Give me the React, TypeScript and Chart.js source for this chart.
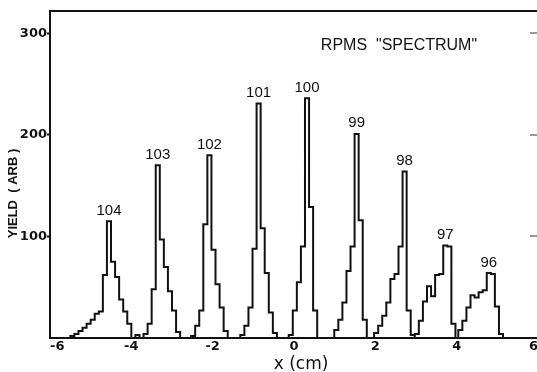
import React, { useEffect, useRef } from "react";
import { Chart, registerables } from "chart.js";

Chart.register(...registerables);

// ---- data (cm / arbitrary yield) ----
const BIN_WIDTH = 0.1;
const peakNames = ["104", "103", "102", "101", "100", "99", "98", "97", "96"];
const peakStarts = [-5.5, -3.9, -2.53, -1.32, -0.13, 0.99, 1.97, 2.97, 4.04];
const yield104 = [2, 4, 7, 10, 14, 18, 24, 26, 62, 115, 75, 60, 38, 26, 14];
const yield103 = [3, 0, 4, 14, 48, 170, 97, 70, 46, 27, 6];
const yield102 = [2, 12, 27, 112, 180, 87, 53, 30, 7];
const yield101 = [3, 12, 30, 88, 231, 108, 64, 25, 5];
const yield100 = [3, 27, 55, 90, 236, 129, 27];
const yield99 = [8, 18, 35, 66, 90, 201, 116, 18];
const yield98 = [5, 12, 22, 35, 58, 63, 90, 164, 27, 3];
const yield97 = [4, 17, 36, 51, 41, 62, 63, 91, 90, 14];
const yield96 = [8, 17, 30, 42, 40, 45, 47, 64, 63, 31, 4];
const xTickValues = [-6, -4, -2, 0, 2, 4, 6];
const yTickValues = [100, 200, 300];
const titleText = 'RPMS  "SPECTRUM"';
const xTitle = "x (cm)";
const yTitle = "YIELD  ( ARB )";

const peakSeries = [yield104, yield103, yield102, yield101, yield100, yield99, yield98, yield97, yield96];

function buildPoints() {
  const pts: { x: number; y: number }[] = [];
  peakSeries.forEach((h, k) => {
    const s = peakStarts[k];
    pts.push({ x: s, y: 0 });
    h.forEach((v, i) => {
      const l = s + i * BIN_WIDTH;
      pts.push({ x: l, y: v }, { x: l + BIN_WIDTH, y: v });
    });
    pts.push({ x: s + h.length * BIN_WIDTH, y: 0 });
  });
  return pts;
}

const INK = "#111";

const annotPlugin = {
  id: "annot",
  afterDraw(chart: any) {
    const { ctx, chartArea } = chart;
    const xs = chart.scales.x;
    const ys = chart.scales.y;
    ctx.save();
    // top frame line
    ctx.strokeStyle = INK;
    ctx.lineWidth = 2;
    ctx.beginPath();
    ctx.moveTo(chartArea.left - 1, chartArea.top);
    ctx.lineTo(chartArea.right, chartArea.top);
    ctx.stroke();
    // faint right-edge ticks
    ctx.strokeStyle = "#777";
    ctx.lineWidth = 1.5;
    yTickValues.forEach((v) => {
      const py = Math.round(ys.getPixelForValue(v));
      ctx.beginPath();
      ctx.moveTo(530, py);
      ctx.lineTo(537, py);
      ctx.stroke();
    });
    // peak labels
    ctx.fillStyle = INK;
    ctx.textAlign = "center";
    ctx.textBaseline = "alphabetic";
    ctx.font = '15px "Liberation Sans"';
    peakSeries.forEach((h, k) => {
      let mi = 0;
      h.forEach((v, i) => {
        if (v > h[mi]) mi = i;
      });
      const cx = xs.getPixelForValue(peakStarts[k] + (mi + 0.5) * BIN_WIDTH);
      const top = ys.getPixelForValue(h[mi]);
      ctx.fillText(peakNames[k], cx, top - 6.5);
    });
    // inner title
    ctx.font = '16px "Liberation Sans"';
    ctx.fillText(titleText, 399, 50);
    // x title
    ctx.font = '17px "DejaVu Sans"';
    ctx.fillText(xTitle, 301, 369);
    // y title
    ctx.translate(13, 193.5);
    ctx.rotate(-Math.PI / 2);
    ctx.font = 'bold 13px "Liberation Sans"';
    ctx.textBaseline = "middle";
    ctx.fillText(yTitle, 0, 0);
    ctx.restore();
  },
};

export default function App() {
  const ref = useRef<HTMLCanvasElement | null>(null);
  useEffect(() => {
    if (!ref.current) return;
    const tickFont = { family: "DejaVu Sans", weight: "bold" as const, size: 13 };
    const chart = new Chart(ref.current, {
      type: "line",
      data: {
        datasets: [
          {
            data: buildPoints(),
            borderColor: INK,
            borderWidth: 2,
            pointRadius: 0,
            fill: false,
            tension: 0,
          },
        ],
      },
      options: {
        animation: false,
        responsive: false,
        devicePixelRatio: 1,
        layout: { padding: { left: 0, top: 11, right: 0, bottom: 0 } },
        plugins: {
          legend: { display: false },
          tooltip: { enabled: false },
          title: { display: false },
        },
        scales: {
          x: {
            type: "linear",
            min: -6,
            max: 6,
            afterBuildTicks: (s: any) => {
              s.ticks = xTickValues.map((v) => ({ value: v }));
            },
            afterFit: (s: any) => {
              s.height = 34;
              s.paddingLeft = 0;
              s.paddingRight = 0;
            },
            grid: { display: false, drawOnChartArea: false, drawTicks: false },
            border: { display: true, color: INK, width: 2 },
            ticks: {
              padding: 1,
              align: "inner",
              color: INK,
              font: tickFont,
              maxRotation: 0,
              autoSkip: false,
            },
          },
          y: {
            type: "linear",
            min: 0,
            max: 322,
            afterBuildTicks: (s: any) => {
              s.ticks = yTickValues.map((v) => ({ value: v }));
            },
            afterFit: (s: any) => {
              s.width = 50;
              s.paddingTop = 0;
              s.paddingBottom = 0;
            },
            grid: {
              display: true,
              drawOnChartArea: false,
              drawTicks: true,
              tickLength: 3,
              tickWidth: 2,
              tickColor: INK,
            },
            border: { display: true, color: INK, width: 2 },
            ticks: { padding: 0, color: INK, font: tickFont, autoSkip: false },
          },
        },
      },
      plugins: [annotPlugin],
    } as any);
    return () => chart.destroy();
  }, []);
  return (
    <div
      style={{
        position: "fixed",
        left: 0,
        top: 0,
        width: 537,
        height: 372,
        overflow: "hidden",
        background: "#fff",
      }}
    >
      <canvas ref={ref} width={538} height={372} style={{ display: "block" }} />
    </div>
  );
}
